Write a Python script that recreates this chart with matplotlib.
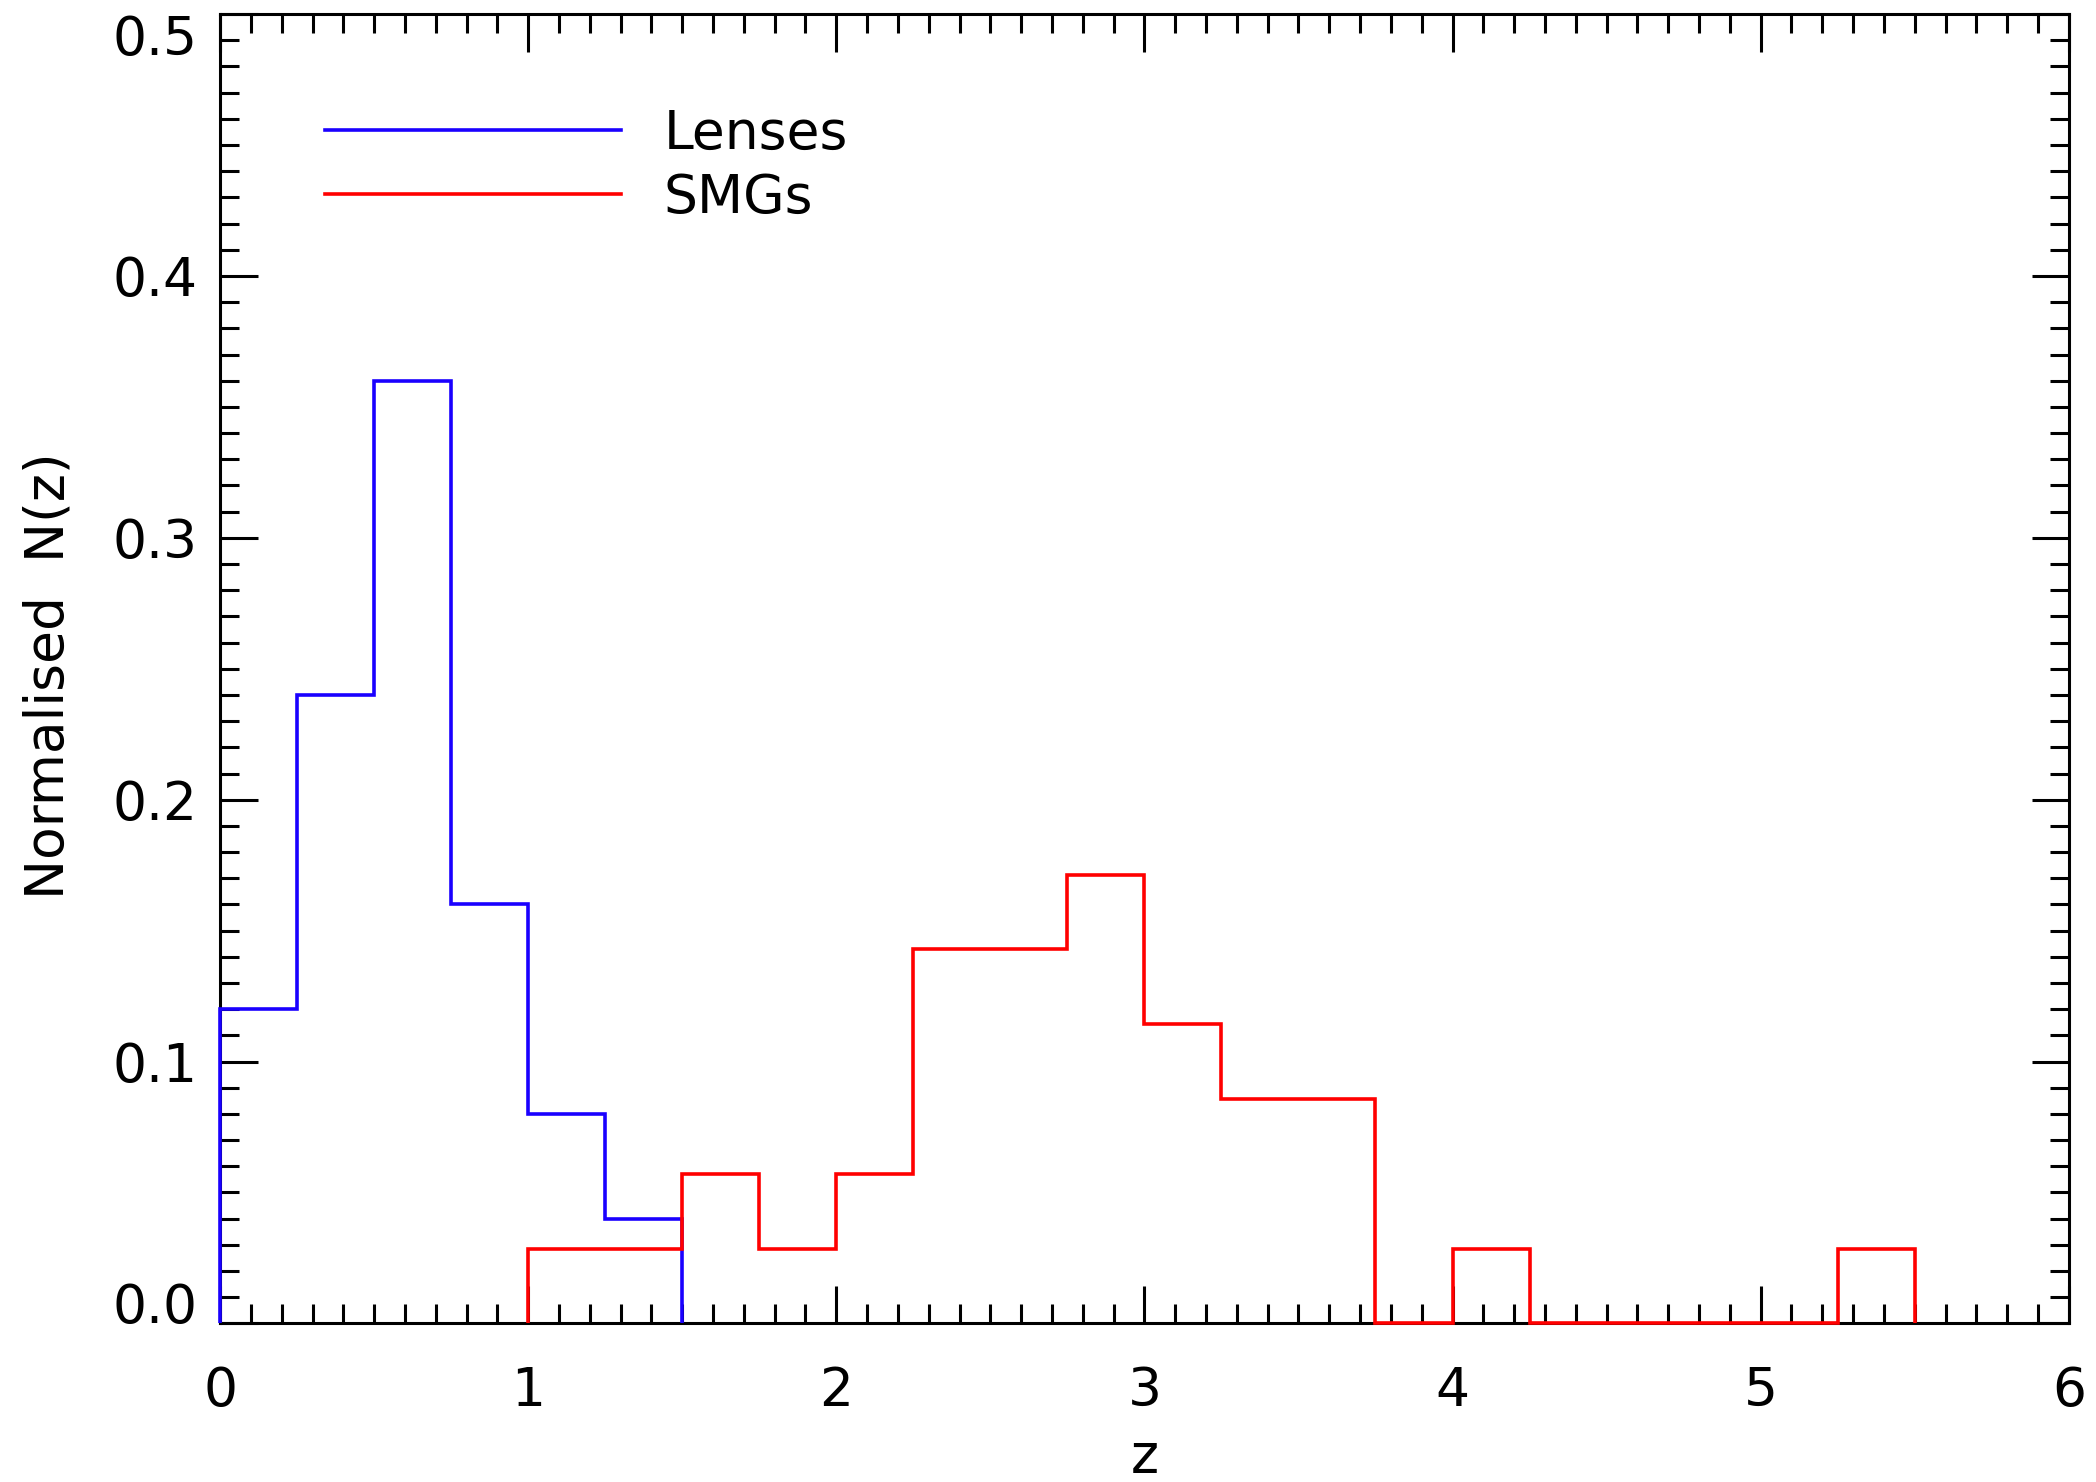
# Redshift distributions of lenses and SMGs
import numpy as np
import matplotlib.pyplot as plt
from matplotlib.ticker import MultipleLocator

plt.rcParams['font.family'] = ['DejaVu Sans']

# Data (normalised N(z), bins of width 0.25)
lens_edges = np.arange(0.0, 1.5001, 0.25)
lens_values = [0.12, 0.24, 0.36, 0.16, 0.08, 0.04]

smg_edges = np.arange(1.0, 5.5001, 0.25)
smg_counts = [1, 1, 2, 1, 2, 5, 5, 6, 4, 3, 3, 0, 1, 0, 0, 0, 0, 1]
smg_values = np.array(smg_counts) / 35.0

fs = 38.5

fig = plt.figure(figsize=(20.96, 14.82), dpi=100)
ax = fig.add_axes([0.105, 0.107, 0.882, 0.8835])

ax.stairs(lens_values, lens_edges, baseline=0, color='#1a00ff', lw=2.6,
          zorder=3, clip_on=False)
ax.stairs(smg_values, smg_edges, baseline=0, color='#ff0000', lw=2.6,
          zorder=3, clip_on=False)

ax.set_xlim(0, 6)
ax.set_ylim(0, 0.5)
ax.xaxis.set_major_locator(MultipleLocator(1))
ax.xaxis.set_minor_locator(MultipleLocator(0.1))
ax.yaxis.set_minor_locator(MultipleLocator(0.01))
ax.set_yticks(np.arange(0, 0.51, 0.1))
ax.set_yticklabels(['%.1f' % v for v in np.arange(0, 0.51, 0.1)])

ax.tick_params(which='both', direction='in', top=True, right=True,
               width=2.2, labelsize=fs, colors='black')
ax.tick_params(which='major', length=27)
ax.tick_params(which='minor', length=14)
ax.tick_params(axis='x', pad=30)
ax.tick_params(axis='y', pad=16)
for s in ax.spines.values():
    s.set_linewidth(2.2)

# end labels sit inside the axis range
ylabs = ax.get_yticklabels()
ylabs[0].set_va('baseline')
ylabs[-1].set_va('top')

ax.set_xlabel('z', fontsize=fs)
ax.xaxis.set_label_coords(0.5, -0.082)
ax.set_ylabel('Normalised  N(z)', fontsize=fs)
ax.yaxis.set_label_coords(-0.079, 0.495)

# legend drawn by hand
ax.plot([0.0568, 0.217], [0.9116, 0.9116], color='#1a00ff', lw=2.6,
        transform=ax.transAxes)
ax.plot([0.0568, 0.217], [0.8627, 0.8627], color='#ff0000', lw=2.6,
        transform=ax.transAxes)
ax.text(0.240, 0.8969, 'Lenses', fontsize=fs, va='baseline',
        transform=ax.transAxes)
ax.text(0.240, 0.8480, 'SMGs', fontsize=fs, va='baseline',
        transform=ax.transAxes)

plt.savefig('out.png', dpi=100)
